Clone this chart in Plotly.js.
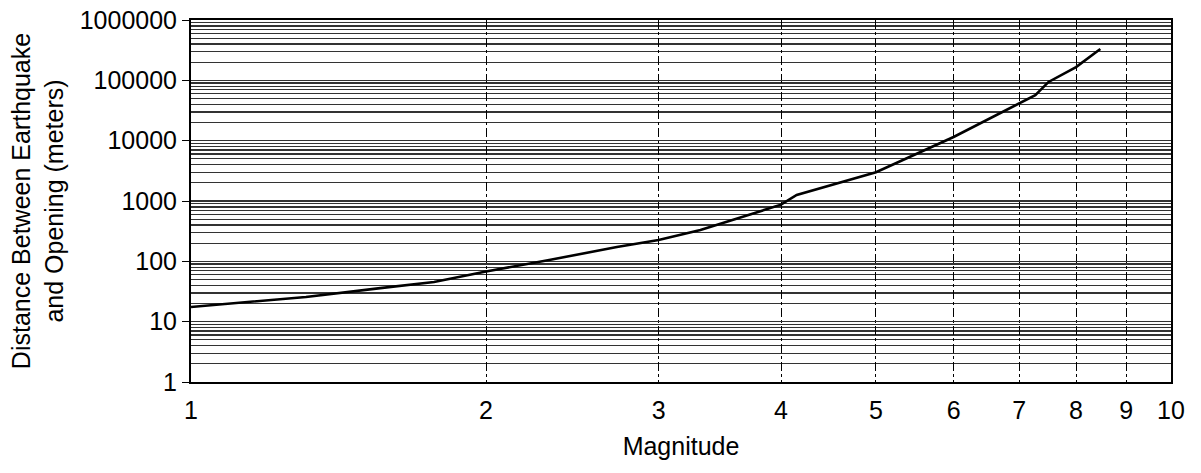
<!DOCTYPE html>
<html>
<head>
<meta charset="utf-8">
<script src="https://cdn.plot.ly/plotly-3.0.1.min.js"></script>
<style>html,body{margin:0;padding:0;background:#fff;}#chart{width:1201px;height:473px;}</style>
</head>
<body>
<div id="chart"></div>
<script>
const magnitude = [1, 1.31, 1.56, 1.77, 2, 2.32, 2.72, 3, 3.31, 3.72, 4, 4.15, 5, 6, 7, 7.27, 7.5, 8, 8.47];
const distance = [17.5, 25.7, 36, 45.5, 68, 105, 173, 225, 330, 590, 870, 1260, 3000, 11500, 42000, 57000, 94000, 166000, 330000];
const xTickVals = [1, 2, 3, 4, 5, 6, 7, 8, 9, 10];
const xTickText = ['1', '2', '3', '4', '5', '6', '7', '8', '9', '10'];
const yTickVals = [1, 10, 100, 1000, 10000, 100000, 1000000];
const yTickText = ['1', '10', '100', '1000', '10000', '100000', '1000000'];

const fontFam = 'Liberation Sans, Arial, sans-serif';
const trace = {
  x: magnitude, y: distance, type: 'scatter', mode: 'lines',
  line: {color: '#000', width: 2.6}, hoverinfo: 'skip'
};
const layout = {
  width: 1201, height: 473,
  margin: {l: 191, r: 30, t: 20, b: 91},
  paper_bgcolor: '#fff', plot_bgcolor: '#fff',
  showlegend: false,
  font: {family: fontFam, size: 25, color: '#000'},
  xaxis: {
    type: 'log', range: [0, 1],
    tickvals: xTickVals, ticktext: xTickText,
    showgrid: true, gridcolor: '#000', gridwidth: 1, griddash: 'dashdot',
    showline: true, mirror: true, linecolor: '#000', linewidth: 2,
    ticks: '', ticklabelstandoff: 5,
    zeroline: false,
    title: {text: 'Magnitude', font: {size: 25}, standoff: 14}
  },
  yaxis: {
    type: 'log', range: [0, 6],
    tickvals: yTickVals, ticktext: yTickText,
    showgrid: true, gridcolor: '#333', gridwidth: 1.3,
    minor: {dtick: 'D1', showgrid: true, gridcolor: '#333', gridwidth: 1.3, ticks: ''},
    showline: true, mirror: true, linecolor: '#000', linewidth: 2,
    ticks: 'outside', ticklen: 7, tickcolor: '#000', tickwidth: 1,
    zeroline: false,
    title: {text: 'Distance Between Earthquake<br>and Opening (meters)', font: {size: 25}, standoff: 9}
  }
};
Plotly.newPlot('chart', [trace], layout, {displayModeBar: false, staticPlot: true});
</script>
</body>
</html>
